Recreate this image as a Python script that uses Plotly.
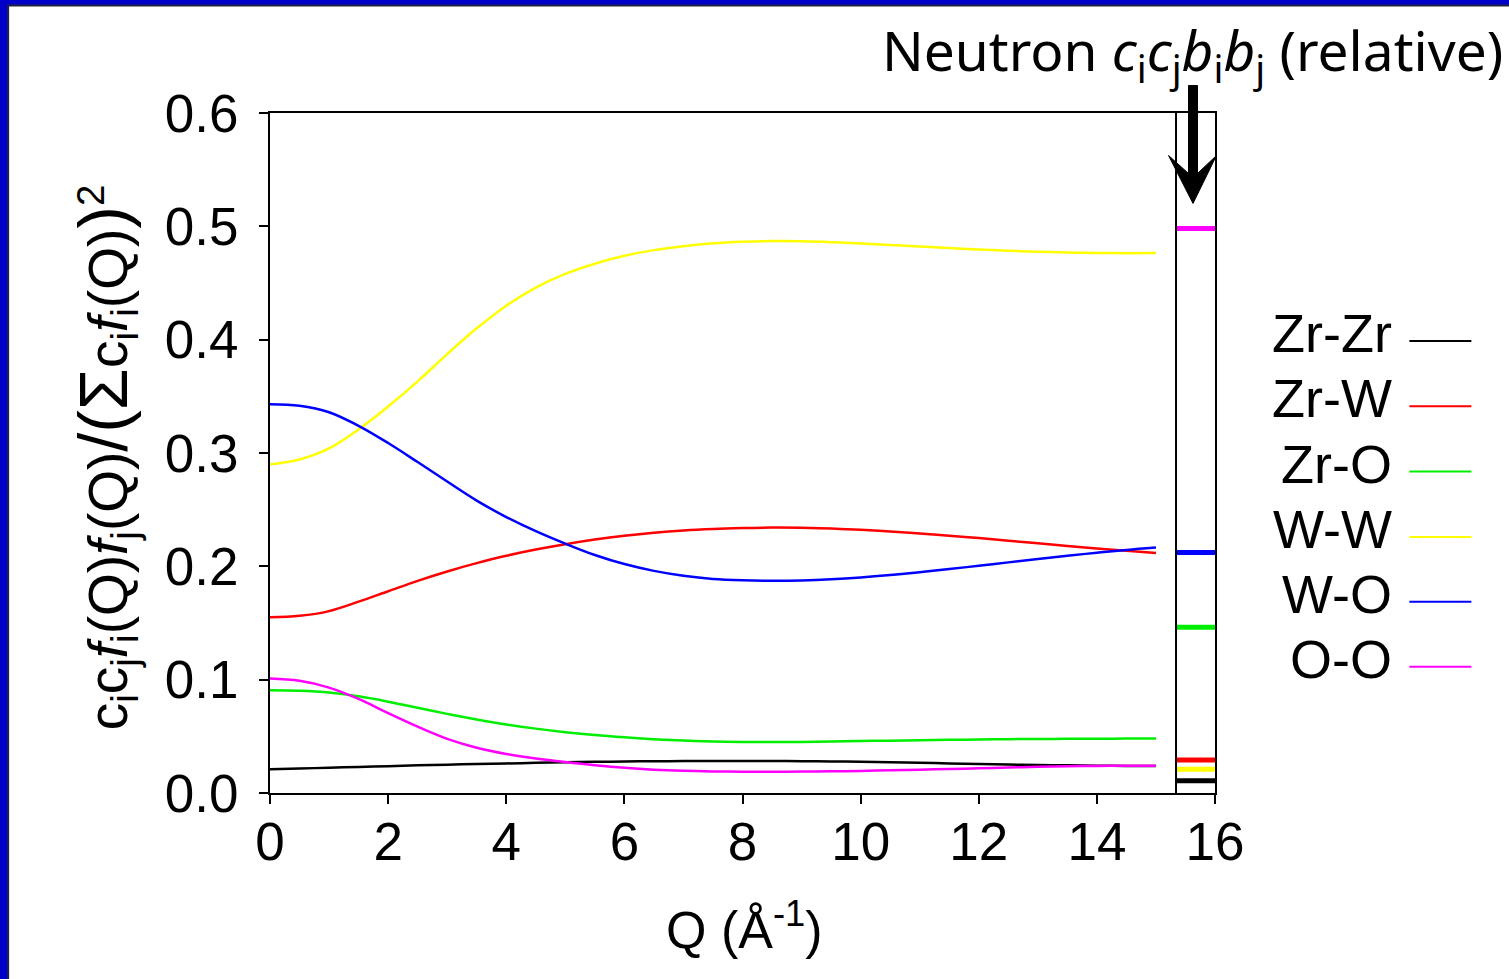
import plotly.graph_objects as go

# ---------------- data ----------------
Q = [0, 0.5, 1, 1.5, 2, 2.5, 3, 3.5, 4, 4.5, 5, 5.5, 6, 6.5, 7, 7.5, 8, 8.5, 9, 9.5,
     10, 10.5, 11, 11.5, 12, 12.5, 13, 13.5, 14, 14.5, 15]

zr_zr = [0.0209, 0.0216, 0.0223, 0.0230, 0.0237, 0.0244, 0.0250, 0.0256, 0.0261, 0.0266, 0.0271,
         0.0275, 0.0278, 0.0280, 0.0282, 0.0283, 0.0283, 0.0283, 0.0281, 0.0279, 0.0276, 0.0272,
         0.0267, 0.0261, 0.0256, 0.0251, 0.0247, 0.0244, 0.0241, 0.0239, 0.0238]
zr_w = [0.1550, 0.1563, 0.1605, 0.1688, 0.1780, 0.1872, 0.1955, 0.2028, 0.2093, 0.2148, 0.2195,
        0.2236, 0.2270, 0.2297, 0.2317, 0.2330, 0.2338, 0.2342, 0.2340, 0.2333, 0.2322, 0.2308,
        0.2290, 0.2270, 0.2249, 0.2226, 0.2203, 0.2180, 0.2158, 0.2137, 0.2117]
zr_o = [0.0907, 0.0903, 0.0887, 0.0853, 0.0806, 0.0752, 0.0698, 0.0649, 0.0605, 0.0568, 0.0537,
        0.0511, 0.0491, 0.0475, 0.0463, 0.0455, 0.0451, 0.0450, 0.0451, 0.0454, 0.0458, 0.0462,
        0.0466, 0.0469, 0.0472, 0.0475, 0.0477, 0.0478, 0.0479, 0.0480, 0.0480]
w_w = [0.2900, 0.2943, 0.3040, 0.3208, 0.3410, 0.3632, 0.3873, 0.4100, 0.4300, 0.4460, 0.4580,
       0.4670, 0.4740, 0.4790, 0.4825, 0.4850, 0.4864, 0.4870, 0.4868, 0.4860, 0.4848, 0.4835,
       0.4822, 0.4808, 0.4796, 0.4785, 0.4776, 0.4770, 0.4765, 0.4763, 0.4764]
w_o = [0.3430, 0.3417, 0.3360, 0.3240, 0.3088, 0.2920, 0.2748, 0.2580, 0.2435, 0.2310, 0.2200,
       0.2100, 0.2020, 0.1960, 0.1917, 0.1889, 0.1877, 0.1873, 0.1876, 0.1886, 0.1902, 0.1923,
       0.1948, 0.1976, 0.2005, 0.2035, 0.2065, 0.2093, 0.2120, 0.2145, 0.2166]
o_o = [0.1010, 0.0990, 0.0930, 0.0830, 0.0705, 0.0585, 0.0478, 0.0400, 0.0345, 0.0305, 0.0273,
       0.0245, 0.0222, 0.0206, 0.0196, 0.0190, 0.0188, 0.0188, 0.0189, 0.0191, 0.0195, 0.0200,
       0.0206, 0.0212, 0.0218, 0.0225, 0.0231, 0.0236, 0.0239, 0.0241, 0.0241]

pairs = ["Zr-Zr", "Zr-W", "Zr-O", "W-W", "W-O", "O-O"]
series = [zr_zr, zr_w, zr_o, w_w, w_o, o_o]
colors = ["#000000", "#ff0000", "#00ee00", "#ffff00", "#0000ff", "#ff00ff"]

# neutron c_i c_j b_i b_j (relative)
neutron = [0.0109, 0.0291, 0.1463, 0.0209, 0.2123, 0.498]
neutron_x = [15.34, 16.0]

x_ticks = [0, 2, 4, 6, 8, 10, 12, 14, 16]
y_ticks = [0.0, 0.1, 0.2, 0.3, 0.4, 0.5, 0.6]

# ---------------- layout helpers (pixel -> paper) ----------------
WIDTH, HEIGHT = 1509, 979
L, R, T, B = 270, 1215.5, 112.5, 793
PW, PH = R - L, B - T


def px(x):
    return (x - L) / PW


def py(y):
    return (B - y) / PH


AX_FONT = "Liberation Sans, Arial, sans-serif"

fig = go.Figure()

for name, ys, c in zip(pairs, series, colors):
    fig.add_trace(go.Scatter(x=Q, y=ys, mode="lines", name=name,
                             line=dict(color=c, width=2.5, shape="spline", smoothing=1.0),
                             showlegend=False, hoverinfo="x+y+name"))

for name, v, c in zip(pairs, neutron, colors):
    fig.add_trace(go.Scatter(x=neutron_x, y=[v, v], mode="lines", name=name + " (neutron)",
                             line=dict(color=c, width=5), showlegend=False))

shapes = []
# blue slide frame + white panel
shapes.append(dict(type="rect", xref="paper", yref="paper",
                   x0=px(8), x1=px(1520), y0=py(5), y1=py(990),
                   fillcolor="white", line=dict(color="#222244", width=2), layer="below"))
# separator line of the neutron panel
shapes.append(dict(type="line", xref="x", yref="y", x0=neutron_x[0], x1=neutron_x[0],
                   y0=0, y1=0.6, line=dict(color="black", width=2)))
# arrow
ax_c = 1193.5
pts = [(1189, 85), (1198, 85), (1198, 173), (1217, 155), (ax_c, 203), (1169, 155), (1189, 173)]
path = "M " + " L ".join(f"{px(x):.5f},{py(y):.5f}" for x, y in pts) + " Z"
shapes.append(dict(type="path", xref="paper", yref="paper", path=path,
                   fillcolor="black", line=dict(color="black", width=1)))

# custom legend (text left, line sample right)
annotations = []
leg_y = [340.7, 406, 471.3, 536.7, 601.7, 666.7]
for name, c, yy in zip(pairs, colors, leg_y):
    shapes.append(dict(type="line", xref="paper", yref="paper", x0=px(1410), x1=px(1472),
                       y0=py(yy), y1=py(yy), line=dict(color=c, width=2)))
    annotations.append(dict(text=name, xref="paper", yref="paper", x=px(1395), y=py(yy - 8),
                            xanchor="right", yanchor="middle", showarrow=False,
                            font=dict(family=AX_FONT, size=54, color="black")))

# neutron title
annotations.append(dict(
    text="Neutron <i>c</i><sub>i</sub><i>c</i><sub>j</sub><i>b</i><sub>i</sub><i>b</i><sub>j</sub> (relative)",
    xref="paper", yref="paper", x=px(1506), y=py(52), xanchor="right", yanchor="middle",
    showarrow=False, font=dict(family="Noto Sans, sans-serif", size=55, color="black")))

# y-axis title
big = '<span style="font-size:68px">'
annotations.append(dict(
    text=("c<sub>i</sub>c<sub>j</sub><i>f</i><sub>i</sub>(Q)<i>f</i><sub>j</sub>(Q)"
          + big + "/(</span>" + big + "Σ</span>c<sub>i</sub><i>f</i><sub>i</sub>(Q)"
          + big + ")</span><sup>2</sup>"),
    xref="paper", yref="paper", x=px(106), y=py(457), xanchor="center", yanchor="middle",
    textangle=-90, showarrow=False, font=dict(family=AX_FONT, size=55, color="black")))

# x-axis title
annotations.append(dict(text="Q (Å<sup>-1</sup>)", xref="paper", yref="paper", x=px(745), y=py(926),
                        xanchor="center", yanchor="middle", showarrow=False,
                        font=dict(family=AX_FONT, size=52, color="black")))

fig.update_layout(
    width=WIDTH, height=HEIGHT,
    margin=dict(l=L, r=WIDTH - R, t=T, b=HEIGHT - B, autoexpand=False),
    paper_bgcolor="#0000c8", plot_bgcolor="white",
    shapes=shapes, annotations=annotations,
    xaxis=dict(range=[0, 16], tickvals=x_ticks, ticktext=[str(t) for t in x_ticks],
               showgrid=False, zeroline=False, showline=True, linecolor="black", linewidth=2,
               mirror=True, ticks="outside", ticklen=9, tickwidth=2, tickcolor="black",
               tickfont=dict(family=AX_FONT, size=53, color="black"), ticklabelstandoff=-8),
    yaxis=dict(range=[0, 0.6], tickvals=y_ticks, ticktext=[f"{t:.1f}" for t in y_ticks],
               showgrid=False, zeroline=False, showline=True, linecolor="black", linewidth=2,
               mirror=True, ticks="outside", ticklen=9, tickwidth=2, tickcolor="black",
               tickfont=dict(family=AX_FONT, size=53, color="black"), ticklabelstandoff=10),
)

fig.write_html("out.html")
